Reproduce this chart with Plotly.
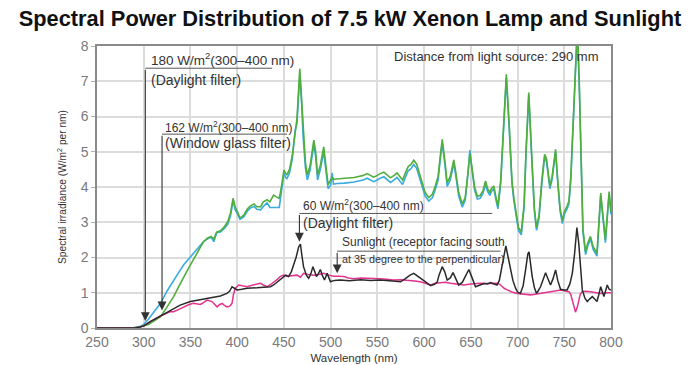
import plotly.graph_objects as go

# ---------------- data ----------------
xenon_wl = [250, 280, 290, 296, 300, 305, 310, 318, 325, 332, 338, 343, 348, 353, 358, 364, 368, 372, 375, 378,
            382, 386, 390, 393, 395.6, 398, 400, 403, 407, 411, 414, 418, 421, 425, 428, 432, 435, 439, 442, 445,
            447, 450, 453, 456, 459, 462, 464, 467, 469, 470.5, 473, 475, 478, 482, 484, 486, 489, 492.6, 495, 497.3,
            500, 501.6, 503, 507, 515, 520, 525, 530, 535, 539, 543, 546, 550, 553, 557, 560, 564, 568, 571, 574,
            577, 580, 583, 586, 589, 592, 595, 598, 601, 605, 609, 612, 615, 617, 619.4, 622, 624.7, 628, 631.8, 634,
            637, 640.8, 644, 647, 649, 651, 654, 657, 660, 663, 665.8, 668, 670.4, 672, 674.6, 677, 679, 682, 685, 688,
            691, 694, 696, 699, 701, 704, 707, 709, 712, 715, 718, 720.3, 723, 726, 729, 731, 734.6, 737, 740.7, 743,
            745.5, 748, 750, 753, 755, 757, 760, 762, 764, 766, 768, 770, 772.8, 775, 778, 781, 785, 787, 789, 791,
            794, 796, 798, 800]

xenon_green = [0, 0, 0.01, 0.03, 0.06, 0.1, 0.18, 0.32, 0.6, 0.89, 1.2, 1.46, 1.7, 1.93, 2.15, 2.45, 2.55, 2.6, 2.52, 2.72,
               2.76, 2.86, 3.02, 3.28, 3.68, 3.42, 3.32, 3.12, 3.2, 3.38, 3.46, 3.52, 3.44, 3.44, 3.58, 3.64, 3.58, 3.77, 3.72, 3.68,
               3.95, 4.48, 4.34, 4.5, 4.9, 5.57, 5.95, 7.35, 6.5, 5.57, 4.7, 4.34, 4.6, 5.33, 5.0, 4.34, 4.62, 5.14, 4.6, 4.06,
               4.2, 4.28, 4.22, 4.23, 4.24, 4.25, 4.27, 4.3, 4.33, 4.38, 4.32, 4.28, 4.33, 4.38, 4.42, 4.35, 4.26, 4.33, 4.4, 4.3,
               4.2, 4.4, 4.58, 4.64, 4.76, 4.65, 4.4, 4.1, 3.85, 3.7, 3.8, 4.03, 4.3, 4.8, 5.35, 4.8, 4.12, 4.3, 4.77, 4.4,
               3.85, 3.52, 3.7, 4.4, 4.95, 4.6, 4.0, 3.74, 3.76, 3.9, 4.17, 3.95, 3.84, 3.95, 4.03, 3.7, 3.46, 4.2, 5.8, 7.2,
               5.8, 4.2, 3.7, 3.2, 2.85, 2.72, 3.5, 5.0, 6.68, 5.0, 3.4, 2.85, 3.2, 4.2, 4.93, 4.8, 4.03, 4.3, 5.07, 4.2,
               3.4, 3.04, 3.3, 3.46, 3.6, 4.3, 6.1, 7.5, 8.6, 7.0, 4.5, 2.8, 2.16, 2.4, 2.6, 2.3, 2.12, 3.0, 3.83, 3.3,
               2.5, 3.2, 3.87, 3.3]

xenon_blue = [0, 0, 0.01, 0.04, 0.1, 0.25, 0.42, 0.7, 1.05, 1.36, 1.6, 1.8, 1.96, 2.1, 2.25, 2.45, 2.52, 2.58, 2.45, 2.7,
              2.72, 2.82, 2.95, 3.2, 3.6, 3.35, 3.25, 3.08, 3.15, 3.32, 3.4, 3.45, 3.37, 3.35, 3.45, 3.55, 3.42, 3.42, 3.4, 3.42,
              3.8, 4.38, 4.22, 4.4, 4.8, 5.6, 5.8, 7.2, 6.35, 5.45, 4.55, 4.2, 4.48, 5.2, 4.85, 4.2, 4.5, 5.0, 4.45, 3.95,
              4.05, 4.4, 4.08, 4.1, 4.11, 4.12, 4.14, 4.17, 4.2, 4.25, 4.19, 4.15, 4.2, 4.25, 4.29, 4.22, 4.13, 4.2, 4.27, 4.17,
              4.07, 4.28, 4.46, 4.52, 4.64, 4.53, 4.28, 3.98, 3.75, 3.6, 3.7, 3.93, 4.2, 4.7, 5.25, 4.7, 4.02, 4.2, 4.67, 4.3,
              3.75, 3.43, 3.62, 4.4, 5.05, 4.55, 3.92, 3.66, 3.68, 3.82, 4.08, 3.87, 3.76, 3.87, 3.95, 3.62, 3.38, 4.1, 5.7, 7.1,
              5.7, 4.1, 3.62, 3.12, 2.77, 2.64, 3.42, 4.9, 6.6, 4.9, 3.32, 2.77, 3.12, 4.1, 4.85, 4.72, 3.95, 4.22, 5.0, 4.12,
              3.32, 2.96, 3.22, 3.38, 3.52, 4.2, 6.0, 7.4, 8.5, 6.9, 4.4, 2.72, 2.08, 2.32, 2.52, 2.22, 2.04, 2.92, 3.75, 3.22,
              2.42, 3.12, 3.8, 3.22]

black_wl = [250, 285, 292, 296, 300, 307, 318, 328.5, 339, 350, 360.6, 371, 382, 389, 392, 394.5, 397, 400, 405, 410.6,
            421, 432, 435.6, 439, 446, 449.8, 452, 455, 458, 460.5, 463, 465.9, 467.7, 469, 471, 474, 476.5, 479, 481, 483,
            484.8, 487, 489, 491, 493.4, 496.3, 498, 499.8, 504, 510.5, 520, 532, 543, 553, 563, 570, 574.8, 580, 585, 589,
            593, 596, 599.7, 603, 606.9, 611, 614, 616, 619.4, 622, 624.7, 628, 631, 634, 637, 641, 644, 647.9, 651, 655,
            660, 664, 668, 671, 675, 678, 680.5, 682.5, 685, 687.5, 690, 692.5, 695, 697.9, 700, 703, 706, 708.6, 711, 712.3,
            714, 715.7, 718, 720.3, 722, 724.6, 727, 730, 732.5, 735.3, 738, 740.7, 743, 746, 750, 753, 756, 758.6, 761, 763.5,
            765.5, 767.5, 769.3, 772, 774.6, 777, 780, 782.5, 785, 787, 789, 792.4, 796, 798, 800]
black_val = [0, 0, 0.01, 0.03, 0.06, 0.18, 0.34, 0.51, 0.65, 0.75, 0.81, 0.86, 0.91, 0.98, 1.05, 1.17, 1.12, 1.08, 1.1, 1.13,
             1.14, 1.15, 1.17, 1.22, 1.38, 1.47, 1.5, 1.46, 1.6, 1.8, 2.0, 2.31, 2.38, 2.1, 1.74, 1.5, 1.41, 1.55, 1.74, 1.6,
             1.46, 1.55, 1.66, 1.5, 1.36, 1.55, 1.45, 1.31, 1.35, 1.36, 1.34, 1.37, 1.35, 1.36, 1.34, 1.33, 1.31, 1.4, 1.5, 1.55,
             1.48, 1.42, 1.36, 1.28, 1.2, 1.24, 1.3, 1.5, 1.74, 1.6, 1.36, 1.42, 1.57, 1.4, 1.22, 1.3, 1.45, 1.66, 1.45, 1.17,
             1.22, 1.26, 1.25, 1.29, 1.25, 1.22, 1.35, 1.65, 2.05, 2.33, 2.0, 1.65, 1.35, 1.13, 1.02, 0.98, 1.2, 1.65, 2.1, 2.16,
             1.8, 1.46, 1.15, 0.98, 1.05, 1.17, 1.35, 1.57, 1.4, 1.22, 1.4, 1.65, 1.35, 1.1, 1.08, 1.08, 1.25, 1.55, 2.1, 2.85,
             2.4, 1.6, 1.08, 0.85, 0.75, 0.82, 0.89, 0.82, 0.75, 0.95, 1.17, 0.89, 1.22, 1.1, 1.08]

sun_wl = [250, 285, 292, 296, 300, 307, 318, 328, 332, 337, 342.7, 348, 353, 357, 360.6, 364, 367.8, 373, 376, 378.5,
          381, 383.8, 386, 389, 392, 394.5, 396, 398, 401.6, 406, 410.6, 414, 417.7, 421, 425, 428, 432, 435, 439, 443,
          446, 449.8, 453.4, 457, 460.5, 464, 467.7, 471, 476, 481.6, 487, 492.6, 498, 503.4, 508, 514, 519, 524.8, 532, 539,
          546, 553, 560, 567, 575, 582, 590, 596, 601, 607, 612, 617.6, 623, 628.3, 635, 642.5, 650, 660, 668, 678,
          681, 683.7, 686, 689, 694, 699.7, 706, 714, 719, 724.6, 730, 735, 740, 746, 750, 755, 757, 758.6, 760, 762,
          764, 765.6, 767, 769, 773, 778, 783, 789, 795, 800]
sun_val = [0, 0, 0.01, 0.03, 0.06, 0.18, 0.34, 0.46, 0.46, 0.52, 0.6, 0.66, 0.7, 0.68, 0.67, 0.72, 0.79, 0.75, 0.66, 0.6,
           0.66, 0.7, 0.65, 0.6, 0.62, 0.7, 0.95, 1.13, 1.22, 1.2, 1.17, 1.2, 1.22, 1.25, 1.27, 1.22, 1.17, 1.22, 1.29, 1.38,
           1.46, 1.5, 1.47, 1.48, 1.49, 1.5, 1.44, 1.55, 1.52, 1.5, 1.52, 1.55, 1.5, 1.47, 1.47, 1.46, 1.42, 1.4, 1.42, 1.42,
           1.41, 1.4, 1.38, 1.36, 1.37, 1.36, 1.33, 1.31, 1.26, 1.22, 1.27, 1.29, 1.3, 1.27, 1.24, 1.22, 1.25, 1.27, 1.26, 1.27,
           1.24, 1.17, 1.12, 1.08, 1.02, 0.98, 0.96, 0.94, 0.96, 0.98, 1.0, 1.03, 1.05, 1.08, 1.06, 1.03, 0.95, 0.79, 0.6, 0.45,
           0.6, 0.79, 0.95, 1.03, 1.04, 1.03, 1.0, 0.98, 1.0, 1.0]

x_ticks = [250, 300, 350, 400, 450, 500, 550, 600, 650, 700, 750, 800]
y_ticks = [0, 1, 2, 3, 4, 5, 6, 7, 8]

title_text = "Spectral Power Distribution of 7.5 kW Xenon Lamp and Sunlight"
x_title = "Wavelength (nm)"
y_title = "Spectral irradiance (W/m<sup>2</sup> per nm)"

SANS = "Liberation Sans, Arial, sans-serif"
TXT = "#333333"

fig = go.Figure()
fig.add_trace(go.Scatter(x=xenon_wl, y=xenon_blue, mode="lines", line=dict(color="#38ace0", width=1.6), name="blue"))
fig.add_trace(go.Scatter(x=xenon_wl, y=xenon_green, mode="lines", line=dict(color="#4fae3c", width=1.6), name="green"))
fig.add_trace(go.Scatter(x=sun_wl, y=sun_val, mode="lines", line=dict(color="#e2338f", width=1.5), name="sun"))
fig.add_trace(go.Scatter(x=black_wl, y=black_val, mode="lines", line=dict(color="#2a2a2a", width=1.5), name="black"))

# ---------- annotation brackets ----------
underlines = [(301.7, 437.4, 7.37), (319.6, 453.4, 5.50), (466.6, 672.9, 3.25), (507, 681.8, 2.18)]
for x0, x1, yy in underlines:
    fig.add_shape(type="line", x0=x0, x1=x1, y0=yy, y1=yy, xref="x", yref="y",
                  line=dict(color="#555555", width=1))

arrows = [(301.7, 7.37, 0.2), (319.6, 5.50, 0.5), (466.6, 3.25, 2.45), (507, 2.18, 1.55)]
for xx, ytail, ytip in arrows:
    fig.add_annotation(x=xx, y=ytip, ax=xx, ay=ytail, xref="x", yref="y", axref="x", ayref="y",
                       text="", showarrow=True, arrowhead=2, arrowsize=1.6, arrowwidth=1.1,
                       arrowcolor="#333333", standoff=0, startstandoff=0)

labels = [
    ("180 W/m<sup>2</sup>(300–400 nm)", 307.1, 7.62, 13.5),
    ("(Daylight filter)", 306.3, 7.04, 14),
    ("162 W/m<sup>2</sup>(300–400 nm)", 322.1, 5.69, 12),
    ("(Window glass filter)", 322.0, 5.24, 14),
    ("60 W/m<sup>2</sup>(300–400 nm)", 469.5, 3.49, 12),
    ("(Daylight filter)", 469.5, 2.99, 14),
    ("Sunlight (receptor facing south", 511.6, 2.45, 12),
    ("at 35 degree to the perpendicular)", 511.6, 1.96, 10.8),
]
for txt, xx, yy, sz in labels:
    fig.add_annotation(x=xx, y=yy, xref="x", yref="y", text=txt, showarrow=False,
                       xanchor="left", yanchor="middle", borderpad=0,
                       font=dict(family=SANS, size=sz, color=TXT))

fig.add_annotation(x=676.5, y=7.69, xref="x", yref="y", text="Distance from light source: 290 mm",
                   showarrow=False, xanchor="center", yanchor="middle",
                   font=dict(family=SANS, size=13, color=TXT))

fig.update_layout(
    width=700, height=365,
    margin=dict(l=97, r=89, t=46, b=37),
    paper_bgcolor="white", plot_bgcolor="white",
    showlegend=False,
    title=dict(text="<b>" + title_text + "</b>", x=0.5, xanchor="center", y=1 - 18 / 365, yanchor="middle",
               yref="container", font=dict(family=SANS, size=21.8, color="#111111")),
    xaxis=dict(range=[250, 800], tickvals=x_ticks, ticktext=[str(v) for v in x_ticks], automargin=False,
               showgrid=True, gridcolor="#dcdcdc", gridwidth=2, zeroline=False,
               showline=True, linecolor="#8a8a8a", linewidth=1.5, mirror=True, ticks="",
               tickfont=dict(family=SANS, size=14, color="#7a7a7a"),
               title=dict(text=x_title, font=dict(family=SANS, size=11.5, color=TXT), standoff=5)),
    yaxis=dict(range=[0, 8], tickvals=y_ticks, ticktext=[str(v) for v in y_ticks], automargin=False,
               showgrid=True, gridcolor="#dcdcdc", gridwidth=2, zeroline=False,
               showline=True, linecolor="#8a8a8a", linewidth=1.5, mirror=True,
               ticks="outside", ticklen=4, tickcolor="#b0b0b0",
               tickfont=dict(family=SANS, size=14, color="#7a7a7a"),
               title=dict(text=y_title, font=dict(family=SANS, size=10.2, color=TXT), standoff=12)),
)

fig.write_html("out.html", config={"displayModeBar": False},
               post_script="document.body.style.margin='0';document.body.style.overflow='hidden';")
